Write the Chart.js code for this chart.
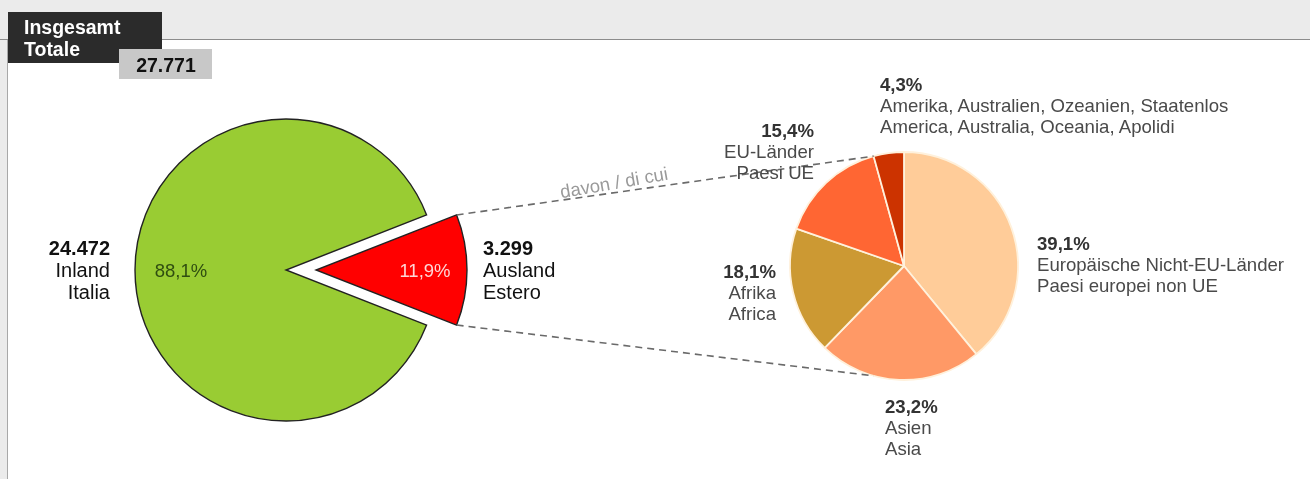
<!DOCTYPE html>
<html><head><meta charset="utf-8">
<script src="https://cdn.jsdelivr.net/npm/chart.js@4.4.1/dist/chart.umd.min.js"></script>
<style>
html,body{margin:0;padding:0;}
body{width:1310px;height:479px;position:relative;overflow:hidden;background:#fff;font-family:'Liberation Sans',Arial,sans-serif;}
.abs{position:absolute;}
#hdr{left:0;top:0;width:1310px;height:39px;background:#ebebeb;border-bottom:1px solid #8c8c8c;}
#lstrip{left:0;top:40px;width:7px;height:439px;background:#ebebeb;border-right:1px solid #a8a8a8;}
#tab{left:8px;top:12px;width:154px;height:51px;background:#2b2b2b;}
#totbox{left:119px;top:49px;width:93px;height:30px;background:#c8c8c8;}
.lbl{position:absolute;white-space:pre;z-index:5;}
canvas{position:absolute;}
svg{position:absolute;left:0;top:0;z-index:4;}
</style></head><body>
<div id="hdr" class="abs"></div>
<div id="lstrip" class="abs"></div>
<div id="tab" class="abs"></div>
<div id="totbox" class="abs"></div>
<script>
// ---------- data ----------
const headerLines = ['Insgesamt', 'Totale'];
const totalValue = 27771;
const mainCategoriesDe = ['Inland', 'Ausland'];
const mainCategoriesIt = ['Italia', 'Estero'];
const mainValues = [24472, 3299];
const mainShares = [88.1, 11.9];
const connectorCaption = 'davon / di cui';
const foreignCategoriesDe = ['Europäische Nicht-EU-Länder', 'Asien', 'Afrika', 'EU-Länder', 'Amerika, Australien, Ozeanien, Staatenlos'];
const foreignCategoriesIt = ['Paesi europei non UE', 'Asia', 'Africa', 'Paesi UE', 'America, Australia, Oceania, Apolidi'];
const foreignShares = [39.1, 23.2, 18.1, 15.4, 4.3];

// ---------- styles / layout ----------
const mainColors = ['#99cc33', '#ff0000'];
const foreignColors = ['#ffcc99', '#ff9966', '#cc9933', '#ff6633', '#cc3300'];
const FONT = "'Liberation Sans', Arial, sans-serif";
const MAIN_C = {x: 286, y: 270}, MAIN_R = 151, EXPLODE = 30;
const FOR_C = {x: 904, y: 266}, FOR_R = 114;

const fmtNum = v => String(v).replace(/\B(?=(\d{3})+(?!\d))/g, '.');
const fmtPct = v => v.toFixed(1).replace('.', ',') + '%';

function addBlock(x, baseline, lines, o) {
  const d = document.createElement('div');
  d.className = 'lbl';
  const size = o.size, lh = o.lh || size * 1.15;
  d.style.fontSize = size + 'px';
  d.style.lineHeight = lh + 'px';
  d.style.color = o.color || '#222';
  d.style.textAlign = o.align || 'left';
  d.style.left = x + 'px';
  d.style.top = (baseline - lh / 2 - 0.3465 * size) + 'px';
  if (o.align === 'right') d.style.transform = 'translateX(-100%)';
  if (o.align === 'center') d.style.transform = 'translateX(-50%)';
  if (o.weight) d.style.fontWeight = o.weight;
  lines.forEach((t, i) => {
    const s = document.createElement('div');
    s.textContent = t;
    if (i === 0 && o.boldFirst) { s.style.fontWeight = 'bold'; if (o.boldColor) s.style.color = o.boldColor; }
    d.appendChild(s);
  });
  document.body.appendChild(d);
  return d;
}

// header texts
addBlock(24, 35, headerLines, {size: 19.5, lh: 21.5, color: '#ffffff', weight: 'bold'});
addBlock(166, 72, [fmtNum(totalValue)], {size: 19.5, lh: 22, color: '#111', weight: 'bold', align: 'center'});

function makeCanvas(left, top, w, h, z) {
  const c = document.createElement('canvas');
  c.width = w; c.height = h;
  c.style.cssText = `left:${left}px;top:${top}px;width:${w}px;height:${h}px;z-index:${z};`;
  document.body.appendChild(c);
  return c;
}

Chart.defaults.font.family = FONT;
const common = {
  responsive: false, animation: false, events: [],
  layout: {padding: 0},
  plugins: {legend: {display: false}, tooltip: {enabled: false}}
};

// main pie: red slice centered on 3 o'clock
const mainSum = mainValues.reduce((a, b) => a + b, 0);
const redSweep = mainValues[1] / mainSum * 360;
const mainRotation = 90 + redSweep / 2;
const S = 340;
const T = 'rgba(0,0,0,0)';
const cA = makeCanvas(MAIN_C.x - S / 2, MAIN_C.y - S / 2, S, S, 1);
const cB = makeCanvas(MAIN_C.x + EXPLODE - S / 2, MAIN_C.y - S / 2, S, S, 2);

const chartA = new Chart(cA, {
  type: 'pie',
  data: {labels: mainCategoriesDe, datasets: [{data: mainValues, backgroundColor: [mainColors[0], T],
    borderColor: ['#222', T], borderWidth: [1.4, 0], borderJoinStyle: 'miter'}]},
  options: Object.assign({}, common, {rotation: mainRotation, radius: MAIN_R})
});
const chartB = new Chart(cB, {
  type: 'pie',
  data: {labels: mainCategoriesDe, datasets: [{data: mainValues, backgroundColor: [T, mainColors[1]],
    borderColor: [T, '#222'], borderWidth: [0, 1.4], borderJoinStyle: 'miter'}]},
  options: Object.assign({}, common, {rotation: mainRotation, radius: MAIN_R})
});

// breakdown pie
const cC = makeCanvas(FOR_C.x - 130, FOR_C.y - 130, 260, 260, 1);
const chartC = new Chart(cC, {
  type: 'pie',
  data: {labels: foreignCategoriesDe, datasets: [{data: foreignShares, backgroundColor: foreignColors,
    borderColor: '#fff1dc', borderWidth: 1.8}]},
  options: Object.assign({}, common, {rotation: 0, radius: FOR_R})
});

// connectors
const redArc = chartB.getDatasetMeta(0).data[1];
const bx = parseFloat(cB.style.left), by = parseFloat(cB.style.top);
const p1 = {x: bx + redArc.x + redArc.outerRadius * Math.cos(redArc.startAngle), y: by + redArc.y + redArc.outerRadius * Math.sin(redArc.startAngle)};
const p2 = {x: bx + redArc.x + redArc.outerRadius * Math.cos(redArc.endAngle), y: by + redArc.y + redArc.outerRadius * Math.sin(redArc.endAngle)};
const lastArc = chartC.getDatasetMeta(0).data[foreignShares.length - 1];
const cx0 = parseFloat(cC.style.left), cy0 = parseFloat(cC.style.top);
const q1 = {x: cx0 + lastArc.x + lastArc.outerRadius * Math.cos(lastArc.startAngle), y: cy0 + lastArc.y + lastArc.outerRadius * Math.sin(lastArc.startAngle)};
const q2 = {x: q1.x, y: cy0 + lastArc.y - lastArc.outerRadius * Math.sin(lastArc.startAngle)};

const NS = 'http://www.w3.org/2000/svg';
const svg = document.createElementNS(NS, 'svg');
svg.setAttribute('width', 1310); svg.setAttribute('height', 479);
[[p1, q1], [p2, q2]].forEach(([a, b]) => {
  const l = document.createElementNS(NS, 'line');
  l.setAttribute('x1', a.x); l.setAttribute('y1', a.y);
  l.setAttribute('x2', b.x); l.setAttribute('y2', b.y);
  l.setAttribute('stroke', '#6a6a6a'); l.setAttribute('stroke-width', '1.6');
  l.setAttribute('stroke-dasharray', '7 5');
  svg.appendChild(l);
});
document.body.appendChild(svg);

const cap = addBlock(614, 189, [connectorCaption], {size: 18.5, lh: 20, color: '#9a9a9a', align: 'center'});
cap.style.transform = 'translateX(-50%) rotate(-10deg)';

// main labels
const mainLabelPos = [{x: 110, y: 255, align: 'right'}, {x: 483, y: 255, align: 'left'}];
const mainPctPos = [{x: 181, y: 277}, {x: 425, y: 277}];
const mainPctColors = ['#2f4d10', '#ffd6d6'];
mainValues.forEach((v, i) => {
  addBlock(mainLabelPos[i].x, mainLabelPos[i].y, [fmtNum(v), mainCategoriesDe[i], mainCategoriesIt[i]],
    {size: 20, lh: 22, color: '#111', align: mainLabelPos[i].align, boldFirst: true});
  addBlock(mainPctPos[i].x, mainPctPos[i].y, [fmtPct(mainShares[i])], {size: 18.5, lh: 20, color: mainPctColors[i], align: 'center'});
});

// breakdown labels
const forLabelPos = [
  {x: 1037, y: 250, align: 'left'},
  {x: 885, y: 413, align: 'left'},
  {x: 776, y: 278, align: 'right'},
  {x: 814, y: 137, align: 'right'},
  {x: 880, y: 91, align: 'left'}
];
foreignShares.forEach((v, i) => {
  const p = forLabelPos[i];
  addBlock(p.x, p.y, [fmtPct(v), foreignCategoriesDe[i], foreignCategoriesIt[i]],
    {size: 18.6, lh: 21.3, color: '#4a4a4a', boldColor: '#333', align: p.align, boldFirst: true});
});
</script>
</body></html>
